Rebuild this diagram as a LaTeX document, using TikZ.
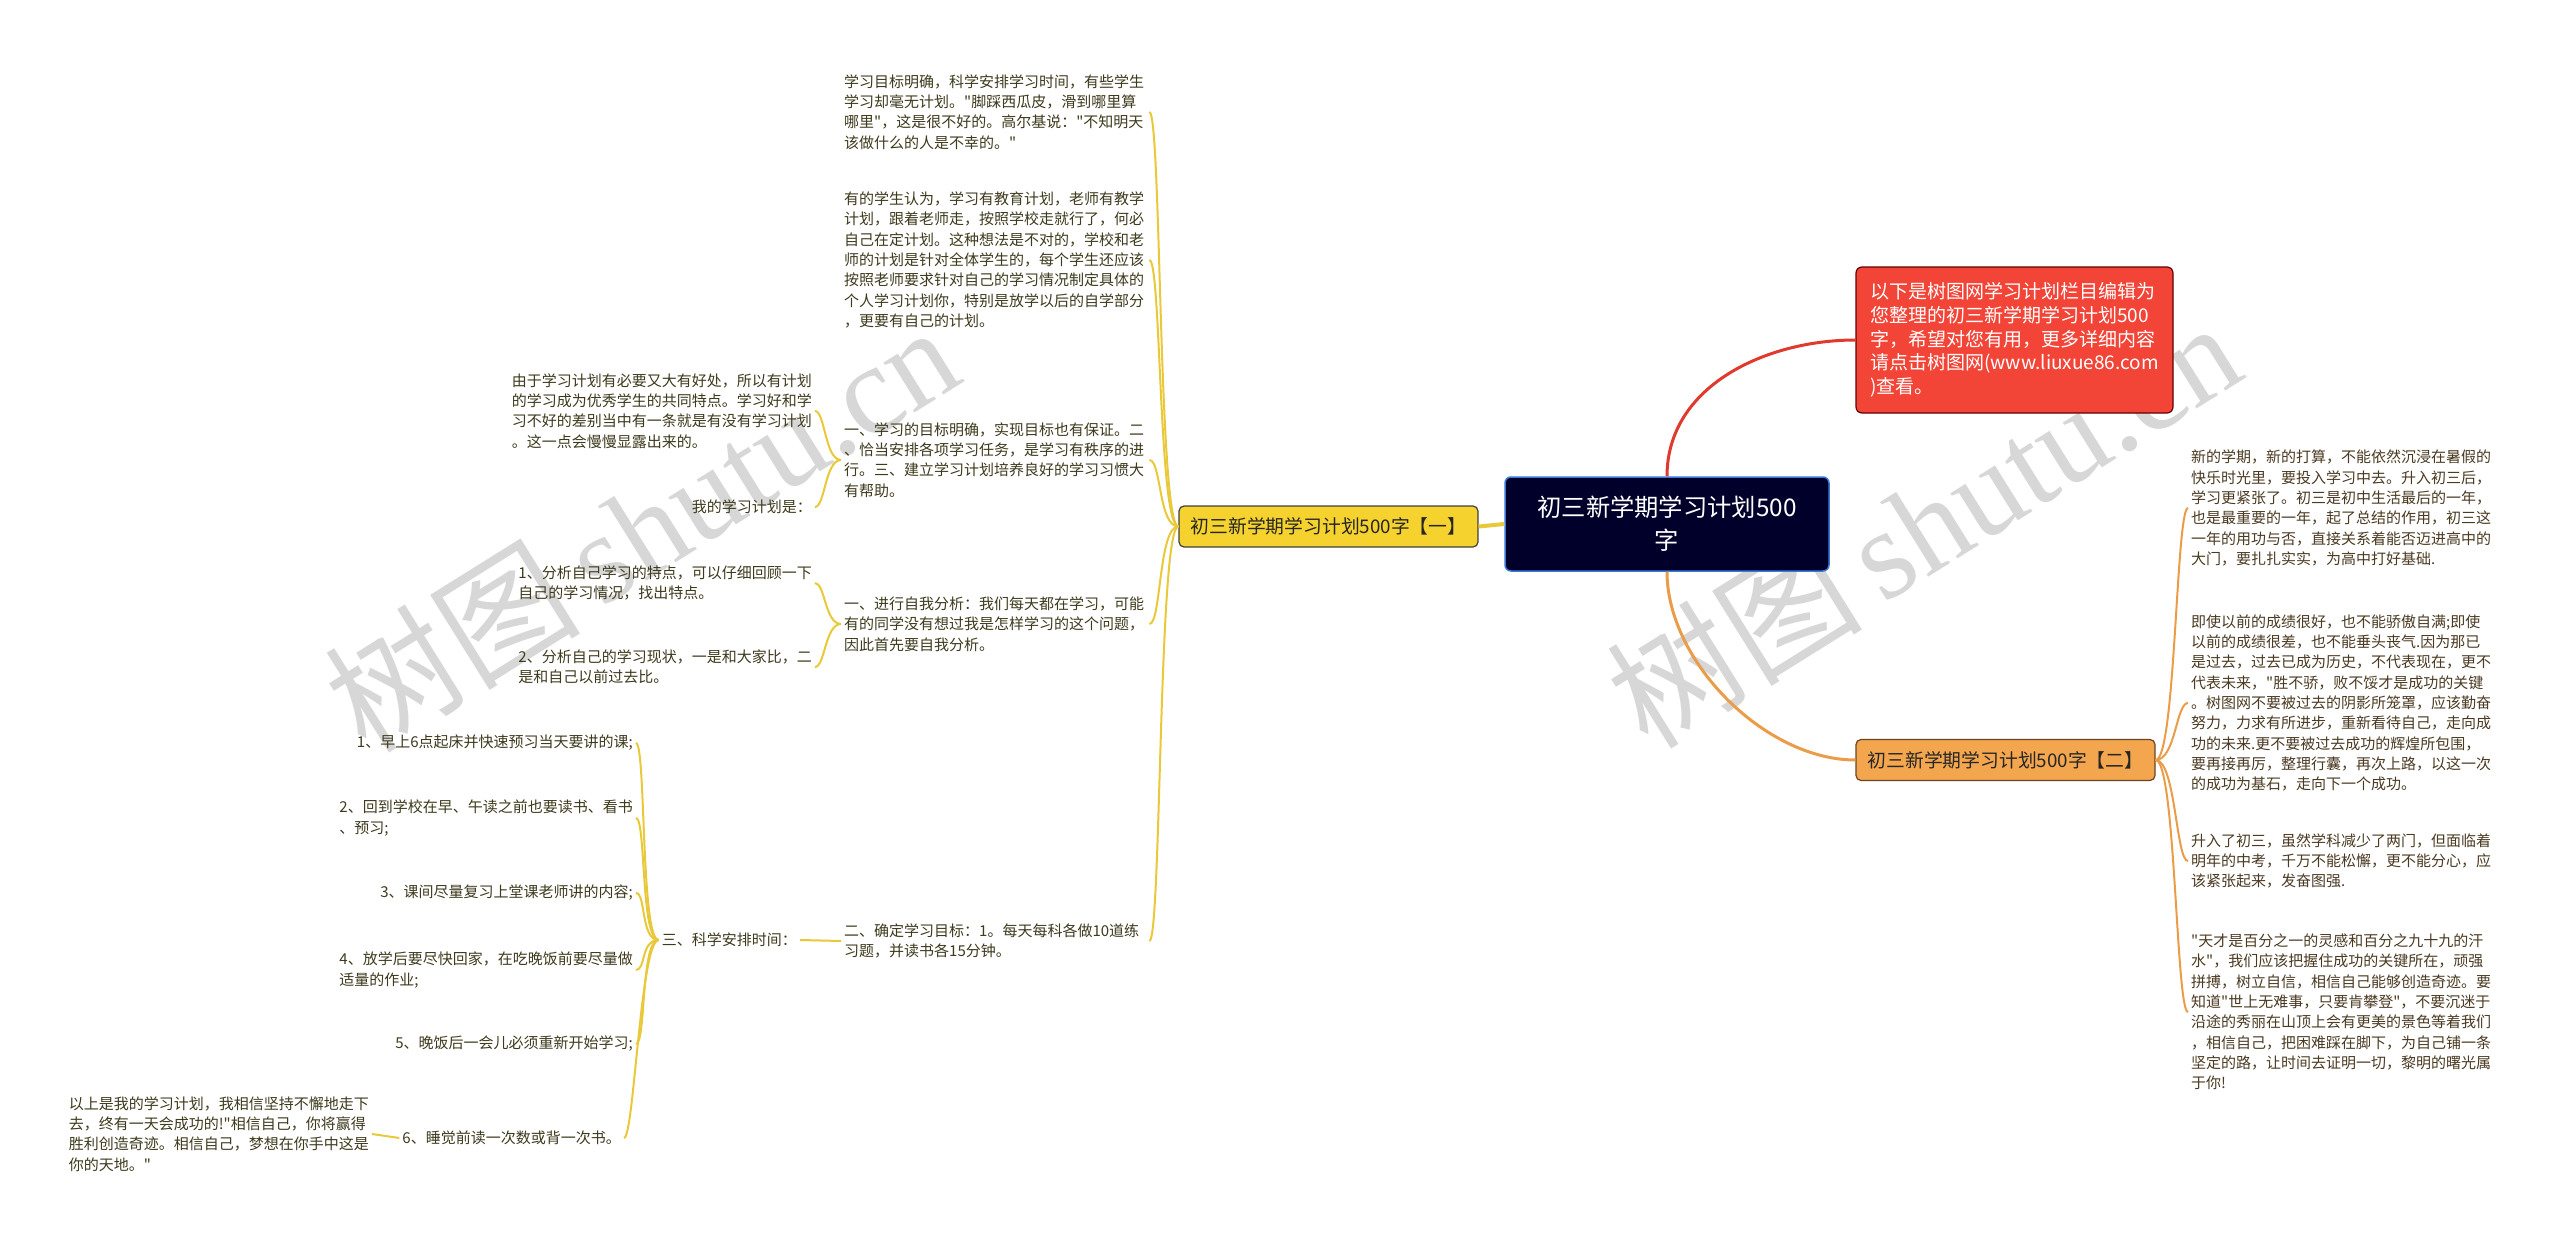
\documentclass[tikz,border=0pt]{standalone}
\usepackage{fontspec}
\defaultfontfeatures[\rmfamily,\sffamily]{}
\setmainfont{Noto Sans CJK SC}
\newfontfamily\wmfont{Liberation Serif}
\usepackage{xcolor}
\usepackage{tikz}
\usetikzlibrary{positioning}
\definecolor{mroot}{HTML}{00002B}
\definecolor{mrootedge}{HTML}{3C78D8}
\definecolor{myellow}{HTML}{F5D22D}
\definecolor{myline}{HTML}{E9C93A}
\definecolor{mred}{HTML}{F24538}
\definecolor{mredline}{HTML}{E0392E}
\definecolor{morange}{HTML}{F3A64D}
\definecolor{moline}{HTML}{EB9C48}
\definecolor{mtextl}{HTML}{3E3A1D}
\definecolor{mtextr}{HTML}{4B3A22}
\definecolor{mwater}{HTML}{D7D7D7}

\tikzset{
  leafl/.style={align=left,text=mtextl,inner xsep=3pt,inner ysep=3pt,
    font=\fontsize{15}{20.3}\selectfont},
  leafbox/.style={leafl,text width=302pt},
  leafr/.style={leafbox,text=mtextr},
  branchbox/.style={rounded corners=5pt,line width=1.2pt,inner sep=0pt,
    minimum width=299pt,minimum height=41pt,text=black!85,
    font=\fontsize{18.8}{22}\selectfont},
  ylink/.style={draw=myline,line width=2pt},
  olink/.style={draw=moline,line width=2pt}
}

\begin{document}
\begin{tikzpicture}[x=1pt,y=-1pt]
  \useasboundingbox (0,0) rectangle (2560,1247);
  \fill[white] (0,0) rectangle (2560,1247);

  % watermarks
  \node[rotate=32,text=mwater,font=\fontsize{128}{128}\selectfont] (wm1) at (641,527) {树图\,{\wmfont shutu.cn}};
  \node[rotate=32,text=mwater,font=\fontsize{128}{128}\selectfont] (wm2) at (1923,523) {树图\,{\wmfont shutu.cn}};

  % centre and main branches
  \node[fill=mroot,draw=mrootedge,line width=1.5pt,rounded corners=6pt,
        text=white,align=center,minimum width=324pt,minimum height=94pt,
        font=\fontsize{24.3}{33}\selectfont] (root) at (1667,524)
        {初三新学期学习计划500\\字};
  \node[branchbox,fill=myellow,draw=black!75] (one) at (1328.5,526.5) {初三新学期学习计划500字【一】};
  \node[branchbox,fill=morange,draw=brown!55!black] (two) at (2005.5,760) {初三新学期学习计划500字【二】};
  \node[fill=mred,draw=red!40!black,line width=1.2pt,rounded corners=6pt,
        text=white,align=left,minimum width=317pt,minimum height=146pt,
        font=\fontsize{19}{23.7}\selectfont] (intro) at (2014.5,340)
        {以下是树图网学习计划栏目编辑为\\您整理的初三新学期学习计划500\\字，希望对您有用，更多详细内容\\请点击树图网(www.liuxue86.com\\)查看。};

  % left branch
  \node[leafbox,anchor=west] (a1) at (841,112)
    {学习目标明确，科学安排学习时间，有些学生\\学习却毫无计划。"脚踩西瓜皮，滑到哪里算\\哪里"，这是很不好的。高尔基说："不知明天\\该做什么的人是不幸的。"};
  \node[leafbox,anchor=west] (a2) at (841,260)
    {有的学生认为，学习有教育计划，老师有教学\\计划，跟着老师走，按照学校走就行了，何必\\自己在定计划。这种想法是不对的，学校和老\\师的计划是针对全体学生的，每个学生还应该\\按照老师要求针对自己的学习情况制定具体的\\个人学习计划你，特别是放学以后的自学部分\\，更要有自己的计划。};
  \node[leafbox,anchor=west] (a3) at (841,460)
    {一、学习的目标明确，实现目标也有保证。二\\、恰当安排各项学习任务，是学习有秩序的进\\行。三、建立学习计划培养良好的学习习惯大\\有帮助。};
  \node[leafbox,anchor=west] (a4) at (841,624)
    {一、进行自我分析：我们每天都在学习，可能\\有的同学没有想过我是怎样学习的这个问题，\\因此首先要自我分析。};
  \node[leafbox,anchor=west] (a5) at (841,941)
    {二、确定学习目标：1。每天每科各做10道练\\习题，并读书各15分钟。};

  \node[leafl,anchor=east] (a3x) at (815,411)
    {由于学习计划有必要又大有好处，所以有计划\\的学习成为优秀学生的共同特点。学习好和学\\习不好的差别当中有一条就是有没有学习计划\\。这一点会慢慢显露出来的。};
  \node[leafl,anchor=east] (a3y) at (815,507) {我的学习计划是：};
  \node[leafl,anchor=east] (a4x) at (815,583)
    {1、分析自己学习的特点，可以仔细回顾一下\\自己的学习情况，找出特点。};
  \node[leafl,anchor=east] (a4y) at (815,667)
    {2、分析自己的学习现状，一是和大家比，二\\是和自己以前过去比。};
  \node[leafl,anchor=east] (a5x) at (800,940) {三、科学安排时间：};

  \node[leafl,anchor=east] (t1) at (636,743) {1、早上6点起床并快速预习当天要讲的课;};
  \node[leafl,anchor=east] (t2) at (636,818) {2、回到学校在早、午读之前也要读书、看书\\、预习;};
  \node[leafl,anchor=east] (t3) at (636,893) {3、课间尽量复习上堂课老师讲的内容;};
  \node[leafl,anchor=east] (t4) at (636,970) {4、放学后要尽快回家，在吃晚饭前要尽量做\\适量的作业;};
  \node[leafl,anchor=east] (t5) at (636,1044) {5、晚饭后一会儿必须重新开始学习;};
  \node[leafl,anchor=east] (t6) at (624,1138) {6、睡觉前读一次数或背一次书。};
  \node[leafl,anchor=east] (fin) at (372,1134)
    {以上是我的学习计划，我相信坚持不懈地走下\\去，终有一天会成功的!"相信自己，你将赢得\\胜利创造奇迹。相信自己，梦想在你手中这是\\你的天地。"};

  % right branch
  \node[leafr,anchor=west] (r1) at (2188,508)
    {新的学期，新的打算，不能依然沉浸在暑假的\\快乐时光里，要投入学习中去。升入初三后，\\学习更紧张了。初三是初中生活最后的一年，\\也是最重要的一年，起了总结的作用，初三这\\一年的用功与否，直接关系着能否迈进高中的\\大门，要扎扎实实，为高中打好基础.};
  \node[leafr,anchor=west] (r2) at (2188,703)
    {即使以前的成绩很好，也不能骄傲自满;即使\\以前的成绩很差，也不能垂头丧气.因为那已\\是过去，过去已成为历史，不代表现在，更不\\代表未来，"胜不骄，败不馁才是成功的关键\\。树图网不要被过去的阴影所笼罩，应该勤奋\\努力，力求有所进步，重新看待自己，走向成\\功的未来.更不要被过去成功的辉煌所包围，\\要再接再厉，整理行囊，再次上路，以这一次\\的成功为基石，走向下一个成功。};
  \node[leafr,anchor=west] (r3) at (2188,861)
    {升入了初三，虽然学科减少了两门，但面临着\\明年的中考，千万不能松懈，更不能分心，应\\该紧张起来，发奋图强.};
  \node[leafr,anchor=west] (r4) at (2188,1012)
    {"天才是百分之一的灵感和百分之九十九的汗\\水"，我们应该把握住成功的关键所在，顽强\\拼搏，树立自信，相信自己能够创造奇迹。要\\知道"世上无难事，只要肯攀登"，不要沉迷于\\沿途的秀丽在山顶上会有更美的景色等着我们\\，相信自己，把困难踩在脚下，为自己铺一条\\坚定的路，让时间去证明一切，黎明的曙光属\\于你!};

  % connectors
  \draw[myline,line width=4pt] (root.west) -- (one.east);
  \draw[mredline,line width=3pt] (root.north) .. controls +(0,-90) and +(-90,0) .. (intro.west);
  \draw[moline,line width=3pt] (root.south) .. controls +(0,90) and +(-90,0) .. (two.west);
  \foreach \n in {a1,a2,a3,a4,a5}
    \draw[ylink] (one.west) .. controls +(-20,0) and +(12,0) .. (\n.east);
  \foreach \n in {a3x,a3y}
    \draw[ylink] (a3.west) .. controls +(-16,0) and +(10,0) .. (\n.east);
  \foreach \n in {a4x,a4y}
    \draw[ylink] (a4.west) .. controls +(-16,0) and +(10,0) .. (\n.east);
  \draw[ylink] (a5.west) -- (a5x.east);
  \foreach \n in {t1,t2,t3,t4,t5,t6}
    \draw[ylink] (a5x.west) .. controls +(-18,0) and +(10,0) .. (\n.east);
  \draw[ylink] (t6.west) -- (fin.east);
  \foreach \n in {r1,r2,r3,r4}
    \draw[olink] (two.east) .. controls +(20,0) and +(-12,0) .. (\n.west);
\end{tikzpicture}
\end{document}
